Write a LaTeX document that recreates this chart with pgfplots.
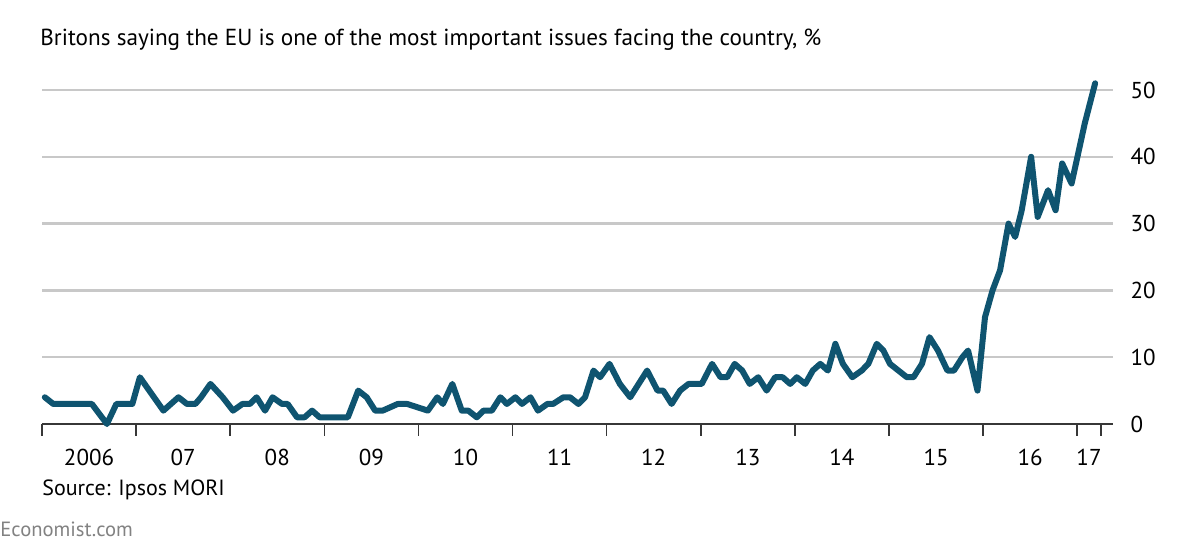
\documentclass[border=0pt]{standalone}
\usepackage{fontspec}
\setmainfont{PT Sans}
\usepackage{pgfplots}
\pgfplotsset{compat=1.18}
\definecolor{eline}{RGB}{15,84,112}
\definecolor{egrid}{RGB}{200,200,200}
\definecolor{eaxis}{RGB}{55,55,55}
\definecolor{egray}{RGB}{130,130,130}

\begin{document}
\begin{tikzpicture}
\useasboundingbox (0,0) rectangle (594.5pt,274.5pt);

\node[anchor=base west, inner sep=0, font=\fontsize{11.6}{14}\selectfont]
  at (20pt,251.5pt) {Britons saying the EU is one of the most important issues facing the country, \%};

\begin{axis}[
    at={(21pt,62.5pt)}, anchor=south west,
    scale only axis, width=535.5pt, height=167pt,
    xmin=2006, xmax=2017.38, ymin=0, ymax=50,
    clip=false,
    axis line style={draw=none},
    ymajorgrids,
    grid style={egrid, line width=1.2pt},
    extra y ticks={0},
    extra y tick style={grid style={eaxis, line width=0.8pt}, yticklabel=\empty},
    ytick={0,10,...,50},
    ytick pos=right,
    yticklabel pos=right,
    y tick style={draw=none},
    yticklabel style={anchor=west, xshift=1pt},
    xtick={2006.5,2007.5,2008.5,2009.5,2010.5,2011.5,2012.5,2013.5,2014.5,2015.5,2016.5,2017.125},
    xticklabels={2006,07,08,09,10,11,12,13,14,15,16,17},
    xtick pos=bottom,
    major x tick style={draw=none},
    minor xtick={2006,2007,2008,2009,2010,2011,2012,2013,2014,2015,2016,2017,2017.25},
    minor tick length=6pt,
    tick align=outside,
    minor x tick style={eaxis, line width=0.8pt},
    xticklabel style={yshift=-5pt},
    ticklabel style={font=\fontsize{11.5}{13}\selectfont},
    /pgf/number format/assume math mode=true,
]
\addplot[eline, line width=3pt, line join=round, line cap=round] coordinates {
(2006.03,4) (2006.12,3) (2006.53,3) (2006.69,0) (2006.79,3) (2006.96,3)
(2007.04,7) (2007.29,2) (2007.45,4) (2007.54,3) (2007.63,3) (2007.69,4)
(2007.79,6) (2007.92,4) (2008.03,2) (2008.13,3) (2008.21,3) (2008.28,4)
(2008.37,2) (2008.45,4) (2008.55,3) (2008.61,3) (2008.71,1) (2008.79,1)
(2008.87,2) (2008.95,1) (2009.25,1) (2009.36,5) (2009.45,4) (2009.54,2)
(2009.62,2) (2009.78,3) (2009.88,3) (2010.10,2) (2010.20,4) (2010.26,3)
(2010.36,6) (2010.46,2) (2010.53,2) (2010.62,1) (2010.69,2) (2010.78,2)
(2010.87,4) (2010.94,3) (2011.03,4) (2011.10,3) (2011.19,4) (2011.27,2)
(2011.37,3) (2011.43,3) (2011.54,4) (2011.61,4) (2011.70,3) (2011.77,4)
(2011.86,8) (2011.93,7) (2012.03,9) (2012.14,6) (2012.25,4) (2012.43,8)
(2012.54,5) (2012.60,5) (2012.69,3) (2012.78,5) (2012.87,6) (2013.01,6)
(2013.12,9) (2013.21,7) (2013.28,7) (2013.36,9) (2013.44,8) (2013.52,6)
(2013.61,7) (2013.70,5) (2013.79,7) (2013.87,7) (2013.95,6) (2014.02,7)
(2014.11,6) (2014.19,8) (2014.27,9) (2014.35,8) (2014.43,12) (2014.51,9)
(2014.61,7) (2014.71,8) (2014.78,9) (2014.87,12) (2014.94,11) (2015.01,9)
(2015.10,8) (2015.19,7) (2015.26,7) (2015.35,9) (2015.43,13) (2015.52,11)
(2015.62,8) (2015.69,8) (2015.78,10) (2015.84,11) (2015.94,5) (2016.02,16)
(2016.10,20) (2016.18,23) (2016.27,30) (2016.34,28) (2016.41,32) (2016.51,40)
(2016.58,31) (2016.69,35) (2016.77,32) (2016.84,39) (2016.94,36) (2017.08,45)
(2017.19,51)
};
\end{axis}

\node[anchor=base west, inner sep=0, font=\fontsize{11}{13}\selectfont]
  at (21pt,26.5pt) {Source: Ipsos MORI};
\node[anchor=base west, inner sep=0, text=egray, font=\fontsize{10.3}{12}\selectfont]
  at (0pt,6pt) {Economist.com};
\end{tikzpicture}
\end{document}
